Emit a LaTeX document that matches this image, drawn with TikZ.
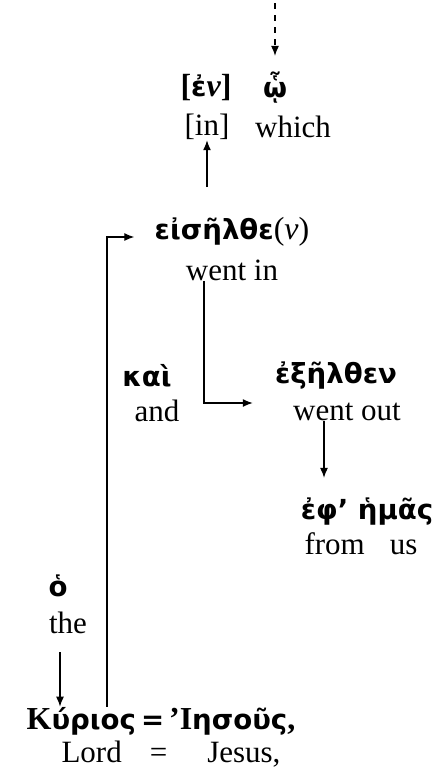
\documentclass[tikz,border=0pt]{standalone}
\usepackage{fontspec}
\setmainfont{Liberation Serif}
\newfontfamily\gk{DejaVu Sans}
\usetikzlibrary{arrows.meta}
\newcommand\rmbig[1]{{\rmfamily\fontsize{16}{16}\selectfont #1}}
\tikzset{
  en/.style={inner sep=0pt, font=\fontsize{15.5}{18}\selectfont},
  gr/.style={inner sep=0pt, font=\gk\bfseries\fontsize{13.8}{16}\selectfont},
  arr/.style={-{Latex[length=5pt,width=4pt]}, line width=0.65pt},
}
\begin{document}
\begin{tikzpicture}[x=0.5pt,y=-0.5pt]
\useasboundingbox (0,0) rectangle (446,783);
% text nodes
\node[gr] (gen) at (206,88) {\rmbig{[}ἐ{\rmbig{\itshape ν}}\rmbig{]}};
\node[gr] (w) at (275,88) {ᾧ};
\node[en] (in) at (207,127) {[in]};
\node[en] (which) at (293,127) {which};
\node[gr] (eis) at (232,232) {εἰσῆλθε{\rmfamily\mdseries\fontsize{16}{16}\selectfont(\itshape ν\upshape)}};
\node[en] (wentin) at (232,270) {went in};
\node[gr] (kai) at (147,376) {καὶ};
\node[en] (and) at (157,411) {and};
\node[gr] (ex) at (336,376) {ἐξῆλθεν};
\node[en] (wentout) at (347,412) {went out};
\node[gr] (ef) at (367,512) {ἐφ’ ἡμᾶς};
\node[en] (from) at (361,544) {from\hspace{12.5pt}us};
\node[gr] (ho) at (58,586) {ὁ};
\node[en] (the) at (68,623) {the};
\node[gr] (kyr) at (161,721) {\rmbig{Κ}ύριος\hspace{2.5pt}=\hspace{2.5pt}\rmbig{’Ι}ησοῦς\rmbig{,}};
\node[en] (lord) at (171,754) {Lord\hspace{14pt}=\hspace{20pt}Jesus,};
% helper coordinates
\coordinate (top) at (275,3);
\coordinate (c1) at (204,403);
\coordinate (c2) at (107,237);
\coordinate (x3) at (324,450);
\coordinate (x6) at (60,680);
% connectors
\draw[arr,dashed,shorten >=8pt] (top) -- (w.north);
\draw[arr,shorten <=15pt] (in.south |- eis.north) -- (in.south);
\draw[arr,shorten >=20pt] (wentin.south -| c1) -- (c1) -- (wentout.west |- c1);
\draw[arr,shorten >=10pt] (kyr.north -| c2) -- (c2) -- (eis.west |- c2);
\draw[arr,shorten >=10pt] (wentout.south -| x3) -- (ef.north -| x3);
\draw[arr,shorten <=9pt] (the.south -| x6) -- (kyr.north -| x6);
\end{tikzpicture}
\end{document}
